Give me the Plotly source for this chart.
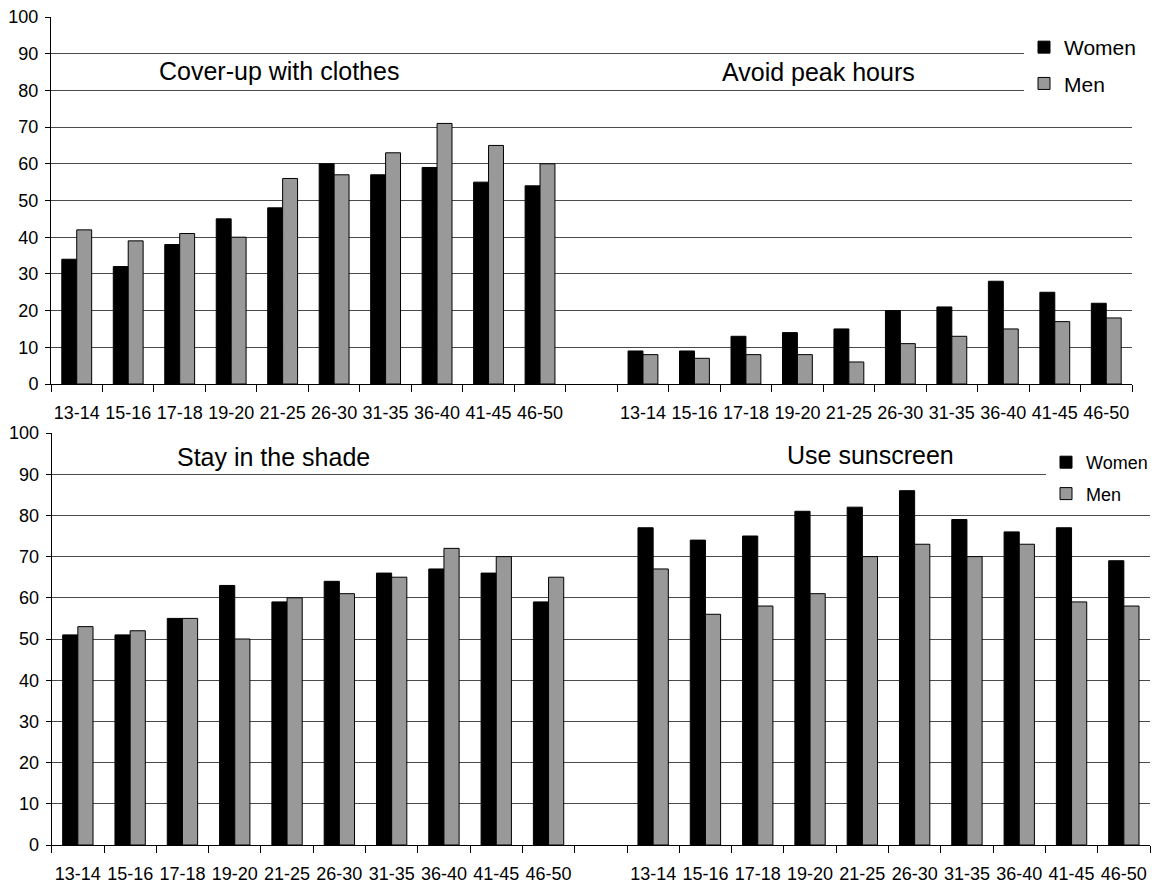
import plotly.graph_objects as go

age_groups = ["13-14", "15-16", "17-18", "19-20", "21-25",
              "26-30", "31-35", "36-40", "41-45", "46-50"]

# Panel titles
titles = ["Cover-up with clothes", "Avoid peak hours", "Stay in the shade", "Use sunscreen"]

# Values (%)
cover_women = [34, 32, 38, 45, 48, 60, 57, 59, 55, 54]
cover_men = [42, 39, 41, 40, 56, 57, 63, 71, 65, 60]
peak_women = [9, 9, 13, 14, 15, 20, 21, 28, 25, 22]
peak_men = [8, 7, 8, 8, 6, 11, 13, 15, 17, 18]
shade_women = [51, 51, 55, 63, 59, 64, 66, 67, 66, 59]
shade_men = [53, 52, 55, 50, 60, 61, 65, 72, 70, 65]
sun_women = [77, 74, 75, 81, 82, 86, 79, 76, 77, 69]
sun_men = [67, 56, 58, 61, 70, 73, 70, 73, 59, 58]

y_ticks = list(range(0, 101, 10))

W, H = 1152, 884
FONT = "Liberation Sans"
BLACK = "#000000"
GRAY = "#999999"
GRID = "#4a4a4a"

n = len(age_groups)
left_x = list(range(n))
right_x = [i + n + 1 for i in range(n)]
all_x = left_x + right_x
all_labels = age_groups + age_groups
boundaries = [i - 0.5 for i in range(2 * n + 2)]

fig = go.Figure()

def add_panel(women_l, men_l, women_r, men_r, xa, ya, legend_name):
    fig.add_trace(go.Bar(x=all_x, y=women_l + women_r, name="Women",
                         marker=dict(color=BLACK, line=dict(color=BLACK, width=1)),
                         xaxis=xa, yaxis=ya, legend=legend_name, legendgroup=legend_name + "w"))
    fig.add_trace(go.Bar(x=all_x, y=men_l + men_r, name="Men",
                         marker=dict(color=GRAY, line=dict(color=BLACK, width=1)),
                         xaxis=xa, yaxis=ya, legend=legend_name, legendgroup=legend_name + "m"))

add_panel(cover_women, cover_men, peak_women, peak_men, "x", "y", "legend")
add_panel(shade_women, shade_men, sun_women, sun_men, "x2", "y2", "legend2")

def xaxis_cfg(domain, anchor):
    return dict(domain=domain, anchor=anchor, range=[-0.5, 2 * n + 0.5],
                tickmode="array", tickvals=all_x, ticktext=all_labels,
                ticks="outside", ticklen=0, tickcolor="white",
                showgrid=False, zeroline=False,
                showline=True, linecolor=BLACK, linewidth=1,
                tickfont=dict(family=FONT, size=18, color=BLACK),
                ticklabelstandoff=12, automargin=False,
                minor=dict(tickmode="array", tickvals=boundaries, ticks="outside",
                           ticklen=7, tickcolor=BLACK, tickwidth=1, showgrid=False))

def yaxis_cfg(domain, anchor):
    return dict(domain=domain, anchor=anchor, range=[0, 100],
                tickmode="array", tickvals=y_ticks,
                ticks="outside", ticklen=5, tickcolor=BLACK,
                showgrid=True, gridcolor=GRID, gridwidth=1, zeroline=False,
                showline=True, linecolor=BLACK, linewidth=1,
                tickfont=dict(family=FONT, size=18, color=BLACK),
                ticklabelstandoff=3, automargin=False)

fig.update_layout(
    width=W, height=H,
    margin=dict(l=0, r=0, t=0, b=0, autoexpand=False),
    paper_bgcolor="white", plot_bgcolor="white",
    barmode="group", bargap=0.42, bargroupgap=0,
    font=dict(family=FONT, color=BLACK),
    xaxis=xaxis_cfg([51 / W, 1132 / W], "y"),
    yaxis=yaxis_cfg([1 - 384 / H, 1 - 17 / H], "x"),
    xaxis2=xaxis_cfg([51.7 / W, 1150 / W], "y2"),
    yaxis2=yaxis_cfg([1 - 845 / H, 1 - 433 / H], "x2"),
    legend=dict(x=1024 / W, y=1 - 27 / H, xanchor="left", yanchor="top",
                xref="container", yref="container",
                bgcolor="white", borderwidth=0, tracegroupgap=6,
                font=dict(family=FONT, size=21, color=BLACK), itemwidth=30),
    legend2=dict(x=1046 / W, y=1 - 444 / H, xanchor="left", yanchor="top",
                 xref="container", yref="container",
                 bgcolor="white", borderwidth=0, tracegroupgap=5,
                 font=dict(family=FONT, size=18, color=BLACK), itemwidth=30),
    showlegend=True,
)

title_pos = [(278.5, 71), (818, 72), (273.5, 456.7), (870.5, 455)]
for t, (px, py) in zip(titles, title_pos):
    fig.add_annotation(text=t, x=px / W, y=1 - py / H, xref="paper", yref="paper",
                       xanchor="center", yanchor="middle", showarrow=False,
                       font=dict(family=FONT, size=25, color=BLACK))

fig.write_html("out.html",
               config={"displayModeBar": False},
               post_script="document.body.style.margin='0px';document.body.style.padding='0px';")
